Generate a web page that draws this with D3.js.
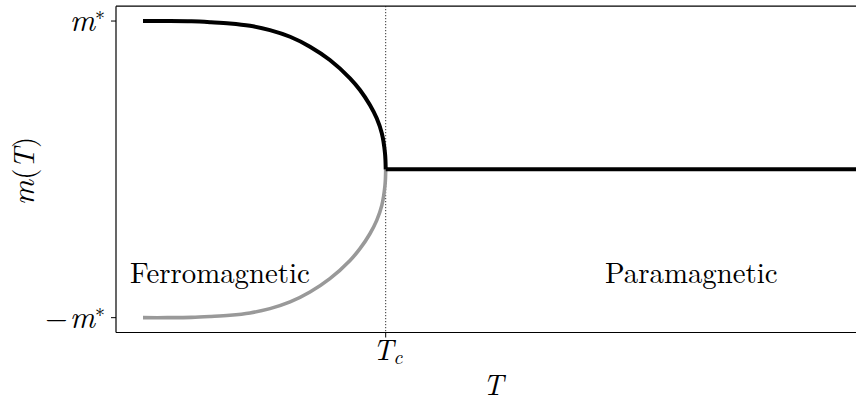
<!DOCTYPE html>
<html><head><meta charset="utf-8">
<script src="https://cdn.jsdelivr.net/npm/d3@7"></script>
<style>html,body{margin:0;padding:0;background:#fff;overflow:hidden}</style>
</head><body>
<svg id="chart" width="856" height="401"></svg>
<script>
// Data (T in units of Tc, m in units of m*)
const ferroT = [0, 0.1, 0.2, 0.28, 0.358, 0.441, 0.523, 0.606, 0.688, 0.770, 0.853, 0.894, 0.935, 0.963, 0.984, 0.997, 1.0];
const ferroM = [1, 1, 0.998, 0.992, 0.984, 0.968, 0.939, 0.894, 0.827, 0.737, 0.614, 0.535, 0.434, 0.344, 0.243, 0.11, 0];
const paraT = [1.0, 3.1];
const paraM = [0, 0];
const yTickVals = [1, -1];
const yTickLabels = [["", "m", "∗"], ["−", "m", "∗"]];
const xTickVals = [1];
const regionLabels = ["Ferromagnetic", "Paramagnetic"];

const svg = d3.select("#chart");
const pLeft = 116, pTop = 6.2, pBottom = 332.5, pRight = 880;
const x = d3.scaleLinear().domain([-0.1113, 1]).range([116, 385.7]);
const y = d3.scaleLinear().domain([-1.1, 1.1]).range([pBottom, pTop]);

svg.append("defs").append("clipPath").attr("id", "clip")
  .append("rect").attr("x", pLeft).attr("y", pTop).attr("width", pRight - pLeft).attr("height", pBottom - pTop);

const g = svg.append("g").attr("clip-path", "url(#clip)");
const line = d3.line().x(d => x(d[0])).y(d => y(d[1])).curve(d3.curveCatmullRom.alpha(0.5));

// dotted Tc line
g.append("line").attr("x1", x(1)).attr("x2", x(1)).attr("y1", pTop).attr("y2", pBottom)
  .attr("stroke", "#000").attr("stroke-width", 1).attr("stroke-dasharray", "1,2");

// lower branch (gray)
g.append("path").datum(ferroT.map((t, i) => [t, -ferroM[i]]))
  .attr("d", line).attr("fill", "none").attr("stroke", "#999999").attr("stroke-width", 3.6);
// upper branch (black)
g.append("path").datum(ferroT.map((t, i) => [t, ferroM[i]]))
  .attr("d", line).attr("fill", "none").attr("stroke", "#000").attr("stroke-width", 4);
g.append("path").datum(paraT.map((t, i) => [t, paraM[i]]))
  .attr("d", d3.line().x(d => x(d[0])).y(d => y(d[1]))).attr("fill", "none").attr("stroke", "#000").attr("stroke-width", 4);

// spines
svg.append("line").attr("x1", pLeft).attr("x2", pLeft).attr("y1", pTop).attr("y2", pBottom).attr("stroke", "#000").attr("stroke-width", 1.2);
svg.append("line").attr("x1", pLeft).attr("x2", pRight).attr("y1", pTop).attr("y2", pTop).attr("stroke", "#000").attr("stroke-width", 1.2);
svg.append("line").attr("x1", pLeft).attr("x2", pRight).attr("y1", pBottom).attr("y2", pBottom).attr("stroke", "#000").attr("stroke-width", 1.2);

const serif = '"Latin Modern Roman", "CMU Serif", FreeSerif, serif';
const txt = sel => sel.style("font-family", serif).style("font-size", "28.8px").style("fill", "#000");

// y ticks
yTickVals.forEach((v, i) => {
  svg.append("line").attr("x1", pLeft - 5).attr("x2", pLeft).attr("y1", y(v)).attr("y2", y(v)).attr("stroke", "#000").attr("stroke-width", 1);
  const t = svg.append("text").attr("x", 105).attr("y", y(v) + 10).attr("text-anchor", "end").call(txt);
  const lab = yTickLabels[i];
  if (lab[0]) t.append("tspan").text(lab[0]);
  t.append("tspan").style("font-style", "italic").style("font-size", "31px").attr("dx", lab[0] ? 2 : 0).text(lab[1]);
  t.append("tspan").style("font-size", "20px").attr("dy", -11).text(lab[2]);
});

// x ticks
xTickVals.forEach(v => {
  svg.append("line").attr("x1", x(v)).attr("x2", x(v)).attr("y1", pBottom).attr("y2", pBottom + 5).attr("stroke", "#000").attr("stroke-width", 1);
  const t = svg.append("text").attr("x", x(v) - 13).attr("y", 360).call(txt);
  t.append("tspan").style("font-style", "italic").text("T");
  t.append("tspan").style("font-style", "italic").style("font-size", "20px").attr("dy", 4).text("c");
});

// axis labels
svg.append("text").attr("x", 493).attr("y", 395).attr("text-anchor", "middle").call(txt)
  .style("font-style", "italic").text("T");
const yl = svg.append("text").attr("transform", "translate(34,171) rotate(-90)").attr("text-anchor", "middle").call(txt);
yl.append("tspan").style("font-style", "italic").style("font-size", "31px").text("m");
yl.append("tspan").text("(");
yl.append("tspan").style("font-style", "italic").text("T");
yl.append("tspan").text(")");

// region labels
svg.append("text").attr("x", 130).attr("y", 283).call(txt).text(regionLabels[0]);
svg.append("text").attr("x", 605).attr("y", 283).call(txt).text(regionLabels[1]);
</script>
</body></html>
